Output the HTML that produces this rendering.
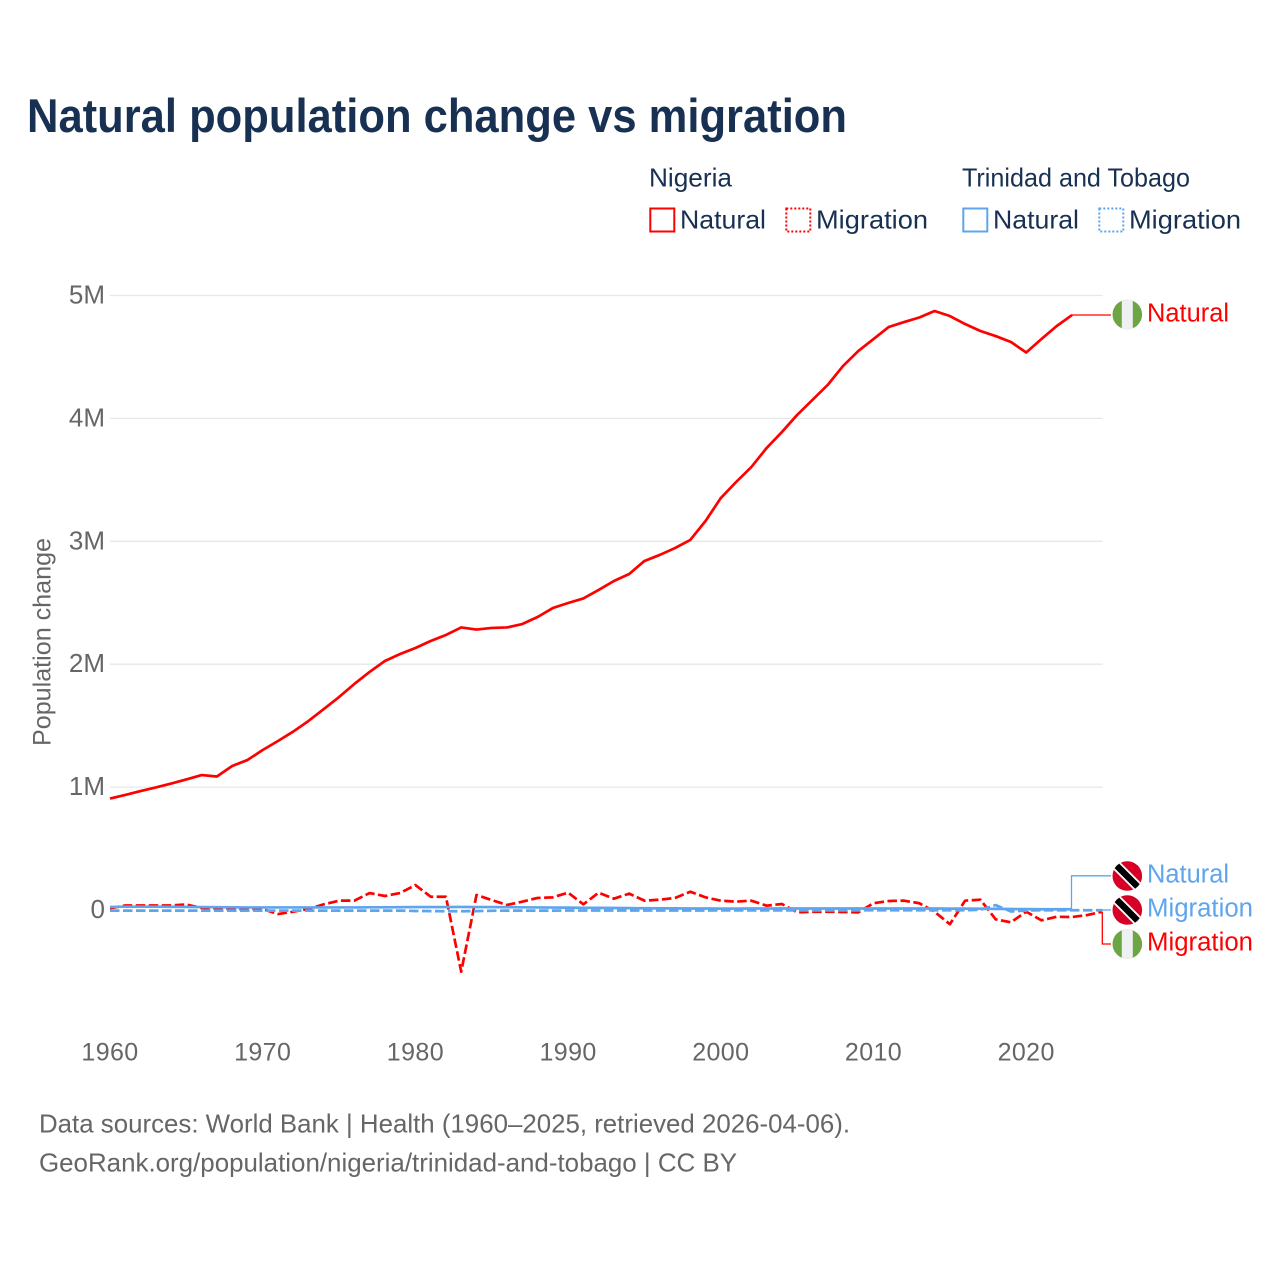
<!DOCTYPE html>
<html lang="en">
<head>
<meta charset="utf-8">
<title>Natural population change vs migration</title>
<style>
html,body{margin:0;padding:0;background:#fff;}
svg{display:block;font-family:"Liberation Sans",sans-serif;}
</style>
</head>
<body>
<svg id="chart" xmlns="http://www.w3.org/2000/svg" width="1280" height="1280" viewBox="0 0 1280 1280">
  <defs>
    <clipPath id="flag-clip-a"><circle cx="1127.3" cy="314.5" r="14.8"/></clipPath>
    <clipPath id="flag-clip-b"><circle cx="1127.3" cy="876" r="14.8"/></clipPath>
    <clipPath id="flag-clip-c"><circle cx="1127.3" cy="910" r="14.8"/></clipPath>
    <clipPath id="flag-clip-d"><circle cx="1127.3" cy="944" r="14.8"/></clipPath>
  </defs>
  <rect width="1280" height="1280" fill="#fff"/>
  <text x="27" y="132" font-size="47" font-weight="700" fill="#183153" textLength="820" lengthAdjust="spacingAndGlyphs">Natural population change vs migration</text>

  <g font-size="26" fill="#183153">
    <text x="649" y="186.5" textLength="83" lengthAdjust="spacingAndGlyphs">Nigeria</text>
    <text x="962" y="186.5" textLength="228" lengthAdjust="spacingAndGlyphs">Trinidad and Tobago</text>
    <g>
      <rect x="650.3" y="208.5" width="24" height="23" fill="none" stroke="#ff0000" stroke-width="2"/>
      <text x="680" y="228.5" textLength="86" lengthAdjust="spacingAndGlyphs">Natural</text>
    </g>
    <g>
      <rect x="786.3" y="208.5" width="24" height="23" fill="none" stroke="#ff0000" stroke-width="2" stroke-dasharray="2,2"/>
      <text x="816" y="228.5" textLength="112" lengthAdjust="spacingAndGlyphs">Migration</text>
    </g>
    <g>
      <rect x="963.3" y="208.5" width="24" height="23" fill="none" stroke="#5ea5ee" stroke-width="2"/>
      <text x="993" y="228.5" textLength="86" lengthAdjust="spacingAndGlyphs">Natural</text>
    </g>
    <g>
      <rect x="1099.3" y="208.5" width="24" height="23" fill="none" stroke="#5ea5ee" stroke-width="2" stroke-dasharray="2,2"/>
      <text x="1129" y="228.5" textLength="112" lengthAdjust="spacingAndGlyphs">Migration</text>
    </g>
  </g>

  <g id="grid"></g>
  <g id="y-ticks"></g>
  <g id="x-ticks"></g>
  <text transform="translate(50.5,746) rotate(-90)" font-size="25" fill="#666666" textLength="208" lengthAdjust="spacingAndGlyphs">Population change</text>
  <g id="series"></g>

  <g>
    <g>
      <path d="M1071.5 315H1111" fill="none" stroke="#ff0000" stroke-width="1.2"/>
      <g clip-path="url(#flag-clip-a)">
        <rect x="1112" y="299" width="31" height="31" fill="#6da544"/>
        <rect x="1121.8" y="299" width="11" height="31" fill="#eff0f2"/>
      </g>
      <text x="1147" y="321.5" font-size="25.5" fill="#ff0000" textLength="82" lengthAdjust="spacingAndGlyphs">Natural</text>
    </g>
    <g>
      <path d="M1071.5 909V875.8H1111" fill="none" stroke="#5ea5ee" stroke-width="1.3"/>
      <g clip-path="url(#flag-clip-b)">
        <rect x="1112" y="860" width="31" height="31" fill="#d80027"/>
        <path d="M1115 864L1140 889" stroke="#fff" stroke-width="10"/>
        <path d="M1115 864L1140 889" stroke="#000" stroke-width="6.5"/>
      </g>
      <text x="1147" y="882.5" font-size="25.5" fill="#5ea5ee" textLength="82" lengthAdjust="spacingAndGlyphs">Natural</text>
    </g>
    <g>
      <path d="M1102 910H1111" fill="none" stroke="#5ea5ee" stroke-width="1.3"/>
      <g clip-path="url(#flag-clip-c)">
        <rect x="1112" y="894" width="31" height="31" fill="#d80027"/>
        <path d="M1115 898L1140 923" stroke="#fff" stroke-width="10"/>
        <path d="M1115 898L1140 923" stroke="#000" stroke-width="6.5"/>
      </g>
      <text x="1147" y="916.5" font-size="25.5" fill="#5ea5ee" textLength="106" lengthAdjust="spacingAndGlyphs">Migration</text>
    </g>
    <g>
      <path d="M1102.3 912V944H1111" fill="none" stroke="#ff0000" stroke-width="1.3"/>
      <g clip-path="url(#flag-clip-d)">
        <rect x="1112" y="928" width="31" height="31" fill="#6da544"/>
        <rect x="1121.8" y="928" width="11" height="31" fill="#eff0f2"/>
      </g>
      <text x="1147" y="950.5" font-size="25.5" fill="#ff0000" textLength="106" lengthAdjust="spacingAndGlyphs">Migration</text>
    </g>
  </g>

  <g font-size="26" fill="#666666">
    <text x="39" y="1132.5" textLength="811" lengthAdjust="spacingAndGlyphs">Data sources: World Bank | Health (1960–2025, retrieved 2026-04-06).</text>
    <text x="39" y="1171.5" textLength="698" lengthAdjust="spacingAndGlyphs">GeoRank.org/population/nigeria/trinidad-and-tobago | CC BY</text>
  </g>
</svg>
<script>
const xTickYears = [1960, 1970, 1980, 1990, 2000, 2010, 2020];
const yTickValues = [0, 1, 2, 3, 4, 5];
const yTickLabels = ['0', '1M', '2M', '3M', '4M', '5M'];
const startYear = [1960];

// Population change in millions, one entry per year from 1960.
const nigeriaNatural = [
  0.907, 0.936, 0.968, 0.997, 1.029, 1.062, 1.098, 1.086, 1.172, 1.220,
  1.302, 1.375, 1.452, 1.538, 1.635, 1.733, 1.839, 1.937, 2.026, 2.083,
  2.132, 2.189, 2.238, 2.299, 2.282, 2.295, 2.299, 2.327, 2.384, 2.457,
  2.498, 2.535, 2.604, 2.677, 2.734, 2.840, 2.889, 2.945, 3.011, 3.165,
  3.352, 3.482, 3.604, 3.759, 3.889, 4.028, 4.150, 4.272, 4.426, 4.548,
  4.646, 4.744, 4.784, 4.821, 4.874, 4.833, 4.768, 4.711, 4.670, 4.622,
  4.536, 4.646, 4.752, 4.841
];
const nigeriaMigration = [
  0.014, 0.037, 0.037, 0.037, 0.037, 0.045, 0.016, 0.012, 0.008, 0.008,
  0.008, -0.033, -0.014, 0.008, 0.046, 0.076, 0.076, 0.138, 0.114, 0.138,
  0.203, 0.108, 0.108, -0.502, 0.122, 0.081, 0.041, 0.068, 0.098, 0.103,
  0.141, 0.046, 0.141, 0.092, 0.133, 0.076, 0.084, 0.098, 0.149, 0.103,
  0.076, 0.068, 0.076, 0.035, 0.049, -0.019, -0.014, -0.014, -0.016, -0.019,
  0.055, 0.073, 0.076, 0.055, -0.014, -0.116, 0.076, 0.084, -0.076, -0.100,
  -0.014, -0.084, -0.055, -0.057, -0.041, -0.014
];
const trinidadNatural = [
  0.025, 0.027, 0.027, 0.027, 0.026, 0.025, 0.024, 0.023, 0.022, 0.021,
  0.021, 0.021, 0.021, 0.021, 0.021, 0.021, 0.021, 0.022, 0.022, 0.023,
  0.024, 0.024, 0.024, 0.025, 0.024, 0.024, 0.023, 0.022, 0.021, 0.020,
  0.019, 0.018, 0.017, 0.016, 0.015, 0.014, 0.013, 0.013, 0.012, 0.012,
  0.011, 0.011, 0.012, 0.012, 0.012, 0.012, 0.012, 0.012, 0.012, 0.012,
  0.012, 0.012, 0.012, 0.012, 0.012, 0.011, 0.011, 0.010, 0.009, 0.008,
  0.007, 0.006, 0.006, 0.006
];
const trinidadMigration = [
  -0.005, -0.005, -0.005, -0.005, -0.005, -0.005, -0.005, -0.005, -0.005, -0.005,
  -0.005, -0.005, -0.005, -0.005, -0.005, -0.005, -0.005, -0.005, -0.005, -0.005,
  -0.008, -0.009, -0.010, -0.010, -0.009, -0.006, -0.005, -0.005, -0.005, -0.005,
  -0.004, -0.004, -0.004, -0.004, -0.004, -0.004, -0.004, -0.004, -0.004, -0.004,
  -0.003, -0.003, -0.003, -0.003, -0.003, -0.003, -0.003, -0.003, -0.003, -0.003,
  -0.002, -0.002, -0.002, -0.002, -0.002, -0.002, -0.002, 0.002, 0.040, -0.012,
  -0.004, -0.002, -0.002, -0.002, -0.002, -0.002
];

const SVG_NS = 'http://www.w3.org/2000/svg';
const x = function (year) { return 110 + (year - 1960) * 15.27; };
const y = function (millions) { return 910 - millions * 122.9; };

function linePath(values) {
  return values.map(function (v, i) {
    return (i ? 'L' : 'M') + x(startYear[0] + i).toFixed(2) + ' ' + y(v).toFixed(2);
  }).join('');
}

const gridGroup = document.getElementById('grid');
const yGroup = document.getElementById('y-ticks');
const xGroup = document.getElementById('x-ticks');
const seriesGroup = document.getElementById('series');

yTickValues.forEach(function (v, i) {
  if (v !== 0) {
    const gl = document.createElementNS(SVG_NS, 'line');
    
    
    gl.setAttribute('x1', x(1960));
    gl.setAttribute('x2', x(2025));
    gl.setAttribute('y1', y(v));
    gl.setAttribute('y2', y(v));
    gl.setAttribute('stroke', '#e7e7e7');
    gl.setAttribute('stroke-width', '1.3');
    gridGroup.appendChild(gl);
  }
  const t = document.createElementNS(SVG_NS, 'text');
  
  
  t.setAttribute('x', 105);
  t.setAttribute('y', y(v) + 8);
  t.setAttribute('text-anchor', 'end');
  t.setAttribute('font-size', '26');
  t.setAttribute('fill', '#666666');
  t.textContent = yTickLabels[i];
  yGroup.appendChild(t);
});

xTickYears.forEach(function (year) {
  const t = document.createElementNS(SVG_NS, 'text');
  
  
  t.setAttribute('x', x(year));
  t.setAttribute('y', 1060.5);
  t.setAttribute('text-anchor', 'middle');
  t.setAttribute('font-size', '25');
  t.setAttribute('letter-spacing', '0.4');
  t.setAttribute('fill', '#666666');
  t.textContent = String(year);
  xGroup.appendChild(t);
});

const natRed = document.createElementNS(SVG_NS, 'path');


natRed.setAttribute('d', linePath(nigeriaNatural));
natRed.setAttribute('fill', 'none');
natRed.setAttribute('stroke', '#ff0000');
natRed.setAttribute('stroke-width', '2.7');
natRed.setAttribute('stroke-linejoin', 'round');
seriesGroup.appendChild(natRed);

const migRed = document.createElementNS(SVG_NS, 'path');


migRed.setAttribute('d', linePath(nigeriaMigration));
migRed.setAttribute('fill', 'none');
migRed.setAttribute('stroke', '#ff0000');
migRed.setAttribute('stroke-width', '2.7');
migRed.setAttribute('stroke-dasharray', '9.5,3.5');
migRed.setAttribute('stroke-linejoin', 'round');
seriesGroup.appendChild(migRed);

const natBlue = document.createElementNS(SVG_NS, 'path');


natBlue.setAttribute('d', linePath(trinidadNatural));
natBlue.setAttribute('fill', 'none');
natBlue.setAttribute('stroke', '#5ea5ee');
natBlue.setAttribute('stroke-width', '2.7');
natBlue.setAttribute('stroke-linejoin', 'round');
seriesGroup.appendChild(natBlue);

const migBlue = document.createElementNS(SVG_NS, 'path');


migBlue.setAttribute('d', linePath(trinidadMigration));
migBlue.setAttribute('fill', 'none');
migBlue.setAttribute('stroke', '#5ea5ee');
migBlue.setAttribute('stroke-width', '2.7');
migBlue.setAttribute('stroke-dasharray', '9.5,3.5');
migBlue.setAttribute('stroke-linejoin', 'round');
seriesGroup.appendChild(migBlue);
</script>
</body>
</html>
